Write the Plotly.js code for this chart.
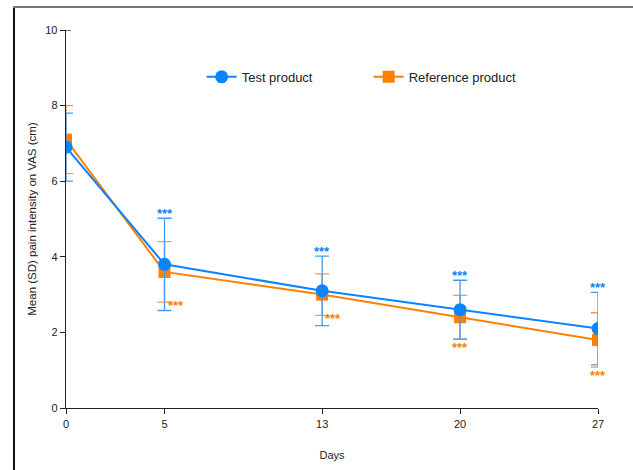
<!DOCTYPE html>
<html><head><meta charset="utf-8">
<script src="https://cdn.plot.ly/plotly-3.0.1.min.js"></script>
<style>
body{margin:0;padding:0;background:#fff;}
#wrap{position:relative;width:633px;height:470px;}
#chart{position:absolute;left:0;top:0;width:633px;height:470px;}
#frameL{position:absolute;left:13px;top:6px;width:2px;height:464px;background:#111;}
#frameT{position:absolute;left:13px;top:6px;width:620px;height:2px;background:#777;}
</style></head>
<body><div id="wrap"><div id="chart"></div><div id="frameL"></div><div id="frameT"></div></div>
<script>
const days = [0, 5, 13, 20, 27];
const testMean = [6.9, 3.8, 3.1, 2.6, 2.1];
const testSD = [0.9, 1.22, 0.92, 0.78, 0.96];
const refMean = [7.1, 3.6, 3.0, 2.4, 1.8];
const refSD = [0.9, 0.8, 0.55, 0.58, 0.72];
const testStars = ["", "***", "***", "***", "***"];
const refStars = ["", "***", "***", "***", "***"];
const refStarsBeside = [false, true, true, false, false];
const tickVals = [0, 5, 13, 20, 27];

const blue = '#0a84ff', orange = '#ff8000';

const traces = [
  {x: days, y: refMean, name: 'Reference product', mode: 'lines+markers', type: 'scatter',
   line: {color: orange, width: 2}, marker: {symbol: 'square', size: 12, color: orange},
   error_y: {type: 'data', array: refSD, visible: true, color: '#ff9a40', thickness: 1.3, width: 7}},
  {x: days, y: testMean, name: 'Test product', mode: 'lines+markers', type: 'scatter',
   line: {color: blue, width: 2}, marker: {symbol: 'circle', size: 13, color: blue},
   error_y: {type: 'data', array: testSD, visible: true, color: '#3d9df5', thickness: 1.3, width: 7}}
];

const starFont = (c) => ({size: 13, color: c, family: 'Liberation Sans, Arial'});
const annotations = [];
days.forEach((d, i) => {
  if (testStars[i]) annotations.push({x: d, y: testMean[i] + testSD[i], xref: 'x', yref: 'y',
    text: '<b>' + testStars[i] + '</b>', showarrow: false, yanchor: 'bottom', yshift: -5,
    font: starFont(blue)});
  if (refStars[i]) {
    const side = refStarsBeside[i];
    annotations.push({x: d, y: refMean[i] - refSD[i], xref: 'x', yref: 'y',
      text: '<b>' + refStars[i] + '</b>', showarrow: false, yanchor: side ? 'middle' : 'top',
      xanchor: side ? 'left' : 'center', xshift: side ? 1 : 0, yshift: side ? -3 : 1,
      font: starFont(orange)});
  }
});

const layout = {
  width: 633, height: 470,
  margin: {l: 66, r: 35, t: 30, b: 62},
  paper_bgcolor: '#fff', plot_bgcolor: '#fff',
  font: {family: 'Liberation Sans, Arial, sans-serif', size: 11, color: '#222'},
  showlegend: true,
  legend: {orientation: 'h', x: 0.255, y: 0.876, yanchor: 'middle', xanchor: 'left',
    traceorder: 'reversed', font: {size: 13, color: '#222'}, itemwidth: 30,
    entrywidth: 122, entrywidthmode: 'pixels',
    bgcolor: 'rgba(0,0,0,0)'},
  xaxis: {range: [0, 27], tickvals: tickVals, ticktext: tickVals.map(String),
    showgrid: false, zeroline: false, showline: true, linecolor: '#222', linewidth: 1.3,
    ticks: 'outside', ticklen: 5, tickcolor: '#222',
    title: {text: 'Days', font: {size: 11}, standoff: 22}},
  yaxis: {range: [0, 10], tickvals: [0, 2, 4, 6, 8, 10],
    showgrid: false, zeroline: false, showline: true, linecolor: '#222', linewidth: 1.3,
    ticks: 'outside', ticklen: 5, tickcolor: '#222',
    title: {text: 'Mean (SD) pain intensity on VAS (cm)', font: {size: 11.5}, standoff: 6}},
  shapes: [{type: 'line', xref: 'x', yref: 'y', x0: 0, x1: 0.25, y0: 10, y1: 10,
    line: {color: '#222', width: 1.3}}],
  annotations: annotations
};
Plotly.newPlot('chart', traces, layout, {displayModeBar: false, staticPlot: true});
</script></body></html>
